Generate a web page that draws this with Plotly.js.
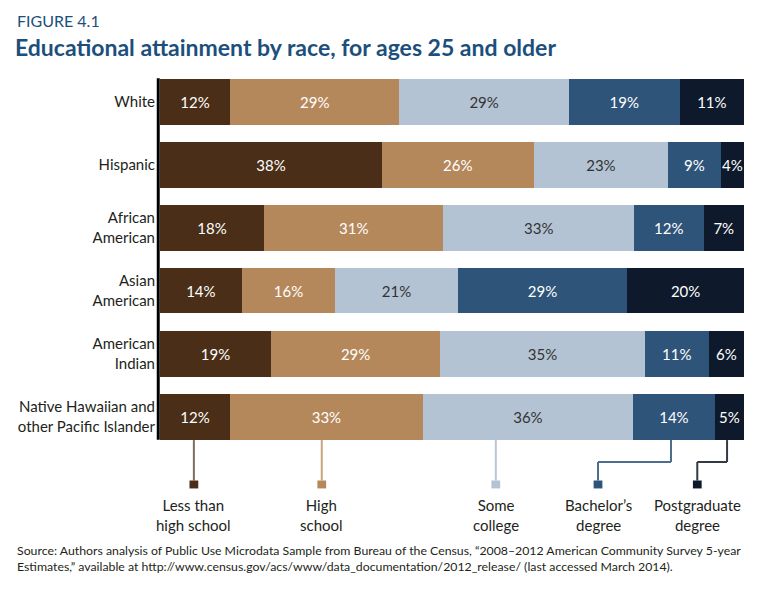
<!DOCTYPE html>
<html>
<head>
<meta charset="utf-8">
<script src="https://cdn.plot.ly/plotly-3.0.1.min.js"></script>
<style>html,body{margin:0;padding:0;background:#fff;}#chart{width:760px;height:615px;}</style>
</head>
<body>
<div id="chart"></div>
<script>
const categories = ["White", "Hispanic", "African<br>American", "Asian<br>American", "American<br>Indian", "Native Hawaiian and<br>other Pacific Islander"];
const seriesNames = ["Less than<br>high school", "High<br>school", "Some<br>college", "Bachelor’s<br>degree", "Postgraduate<br>degree"];
const lessThanHS   = [12, 38, 18, 14, 19, 12];
const highSchool   = [29, 26, 31, 16, 29, 33];
const someCollege  = [29, 23, 33, 21, 35, 36];
const bachelors    = [19,  9, 12, 29, 11, 14];
const postgraduate = [11,  4,  7, 20,  6,  5];
const series = [lessThanHS, highSchool, someCollege, bachelors, postgraduate];
const colors = ["#4a2e17", "#b5885b", "#b3c3d3", "#2f5479", "#0e1a2b"];
const textColors = ["#ffffff", "#ffffff", "#333333", "#ffffff", "#ffffff"];
const lineColors = ["#7d6d5e", "#c9a47c", "#b8c6d5", "#4d6d8e", "#333a44"];

const rowSums = categories.map((c, i) => series.reduce((s, arr) => s + arr[i], 0));

const font = "Lato, 'Open Sans', sans-serif";

const traces = series.map((vals, k) => ({
  type: "bar",
  orientation: "h",
  y: categories,
  x: vals.map((v, i) => v / rowSums[i] * 100),
  text: vals.map(v => v + "%"),
  textposition: "inside",
  insidetextanchor: "middle",
  textangle: 0,
  constraintext: "none",
  insidetextfont: {family: font, size: 15, color: textColors[k]},
  marker: {color: colors[k], line: {width: 0}},
  hoverinfo: "none",
  name: seriesNames[k].replace("<br>", " ")
}));

// legend connector geometry (x in data %, y in paper)
const lineX   = [5.8, 27.7, 57.5, 87.5, 97.1];
const squareX = [5.8, 27.7, 57.5, 75.0, 92.0];
const yTop = 0.021, yElbow = -0.037, ySq0 = -0.086, ySq1 = -0.107;

const shapes = [];
const annotations = [];
for (let k = 0; k < 5; k++) {
  if (lineX[k] === squareX[k]) {
    shapes.push({type: "line", xref: "x", yref: "paper", x0: lineX[k], x1: lineX[k], y0: yTop, y1: ySq0,
      line: {color: lineColors[k], width: 2}});
  } else {
    shapes.push({type: "line", xref: "x", yref: "paper", x0: lineX[k], x1: lineX[k], y0: yTop, y1: yElbow,
      line: {color: lineColors[k], width: 2}});
    shapes.push({type: "line", xref: "x", yref: "paper", x0: lineX[k], x1: squareX[k], y0: yElbow, y1: yElbow,
      line: {color: lineColors[k], width: 2}});
    shapes.push({type: "line", xref: "x", yref: "paper", x0: squareX[k], x1: squareX[k], y0: yElbow, y1: ySq0,
      line: {color: lineColors[k], width: 2}});
  }
  shapes.push({type: "rect", xref: "x", yref: "paper", x0: squareX[k] - 0.75, x1: squareX[k] + 0.75, y0: ySq1, y1: ySq0,
    fillcolor: colors[k], line: {width: 0}});
  annotations.push({xref: "x", yref: "paper", x: squareX[k], y: -0.122, yanchor: "top", xanchor: "center",
    text: seriesNames[k], showarrow: false, align: "center",
    font: {family: font, size: 15, color: "#231f20"}});
}
// vertical axis line
shapes.push({type: "line", xref: "paper", yref: "y", x0: -0.003, x1: -0.003, y0: -0.37, y1: 5.37,
  line: {color: "#000000", width: 3}});

annotations.push({xref: "paper", yref: "paper", x: -0.248, y: 1.13, xanchor: "left", yanchor: "middle",
  text: "FIGURE 4.1", showarrow: false, font: {family: font, size: 16, color: "#1c4f7c"}});
annotations.push({xref: "paper", yref: "paper", x: -0.248, y: -0.245, xanchor: "left", yanchor: "top", align: "left",
  text: "Source: Authors analysis of Public Use Microdata Sample from Bureau of the Census, “2008–2012 American Community Survey 5-year<br>Estimates,” available at http://www.census.gov/acs/www/data_documentation/2012_release/ (last accessed March 2014).",
  showarrow: false, font: {family: font, size: 12.3, color: "#231f20"}});

const layout = {
  width: 760, height: 615,
  margin: {l: 160, r: 16, t: 70, b: 167},
  paper_bgcolor: "#ffffff", plot_bgcolor: "#ffffff",
  barmode: "stack",
  bargap: 0.27,
  showlegend: false,
  title: {text: "<b>Educational attainment by race, for ages 25 and older</b>", x: 15/760, xanchor: "left", xref: "container",
    y: 1 - 48/615, yanchor: "middle", font: {family: font, size: 23, color: "#1c4f7c"}},
  xaxis: {range: [0, 100], showgrid: false, zeroline: false, showticklabels: false, showline: false, fixedrange: true},
  yaxis: {autorange: "reversed", showgrid: false, zeroline: false, showline: false, ticks: "", ticklabelstandoff: 4,
    tickfont: {family: font, size: 15, color: "#231f20"}, fixedrange: true},
  uniformtext: {minsize: 15, mode: "show"},
  shapes: shapes,
  annotations: annotations,
  font: {family: font}
};

Plotly.newPlot("chart", traces, layout, {displayModeBar: false, staticPlot: true});
</script>
</body>
</html>
